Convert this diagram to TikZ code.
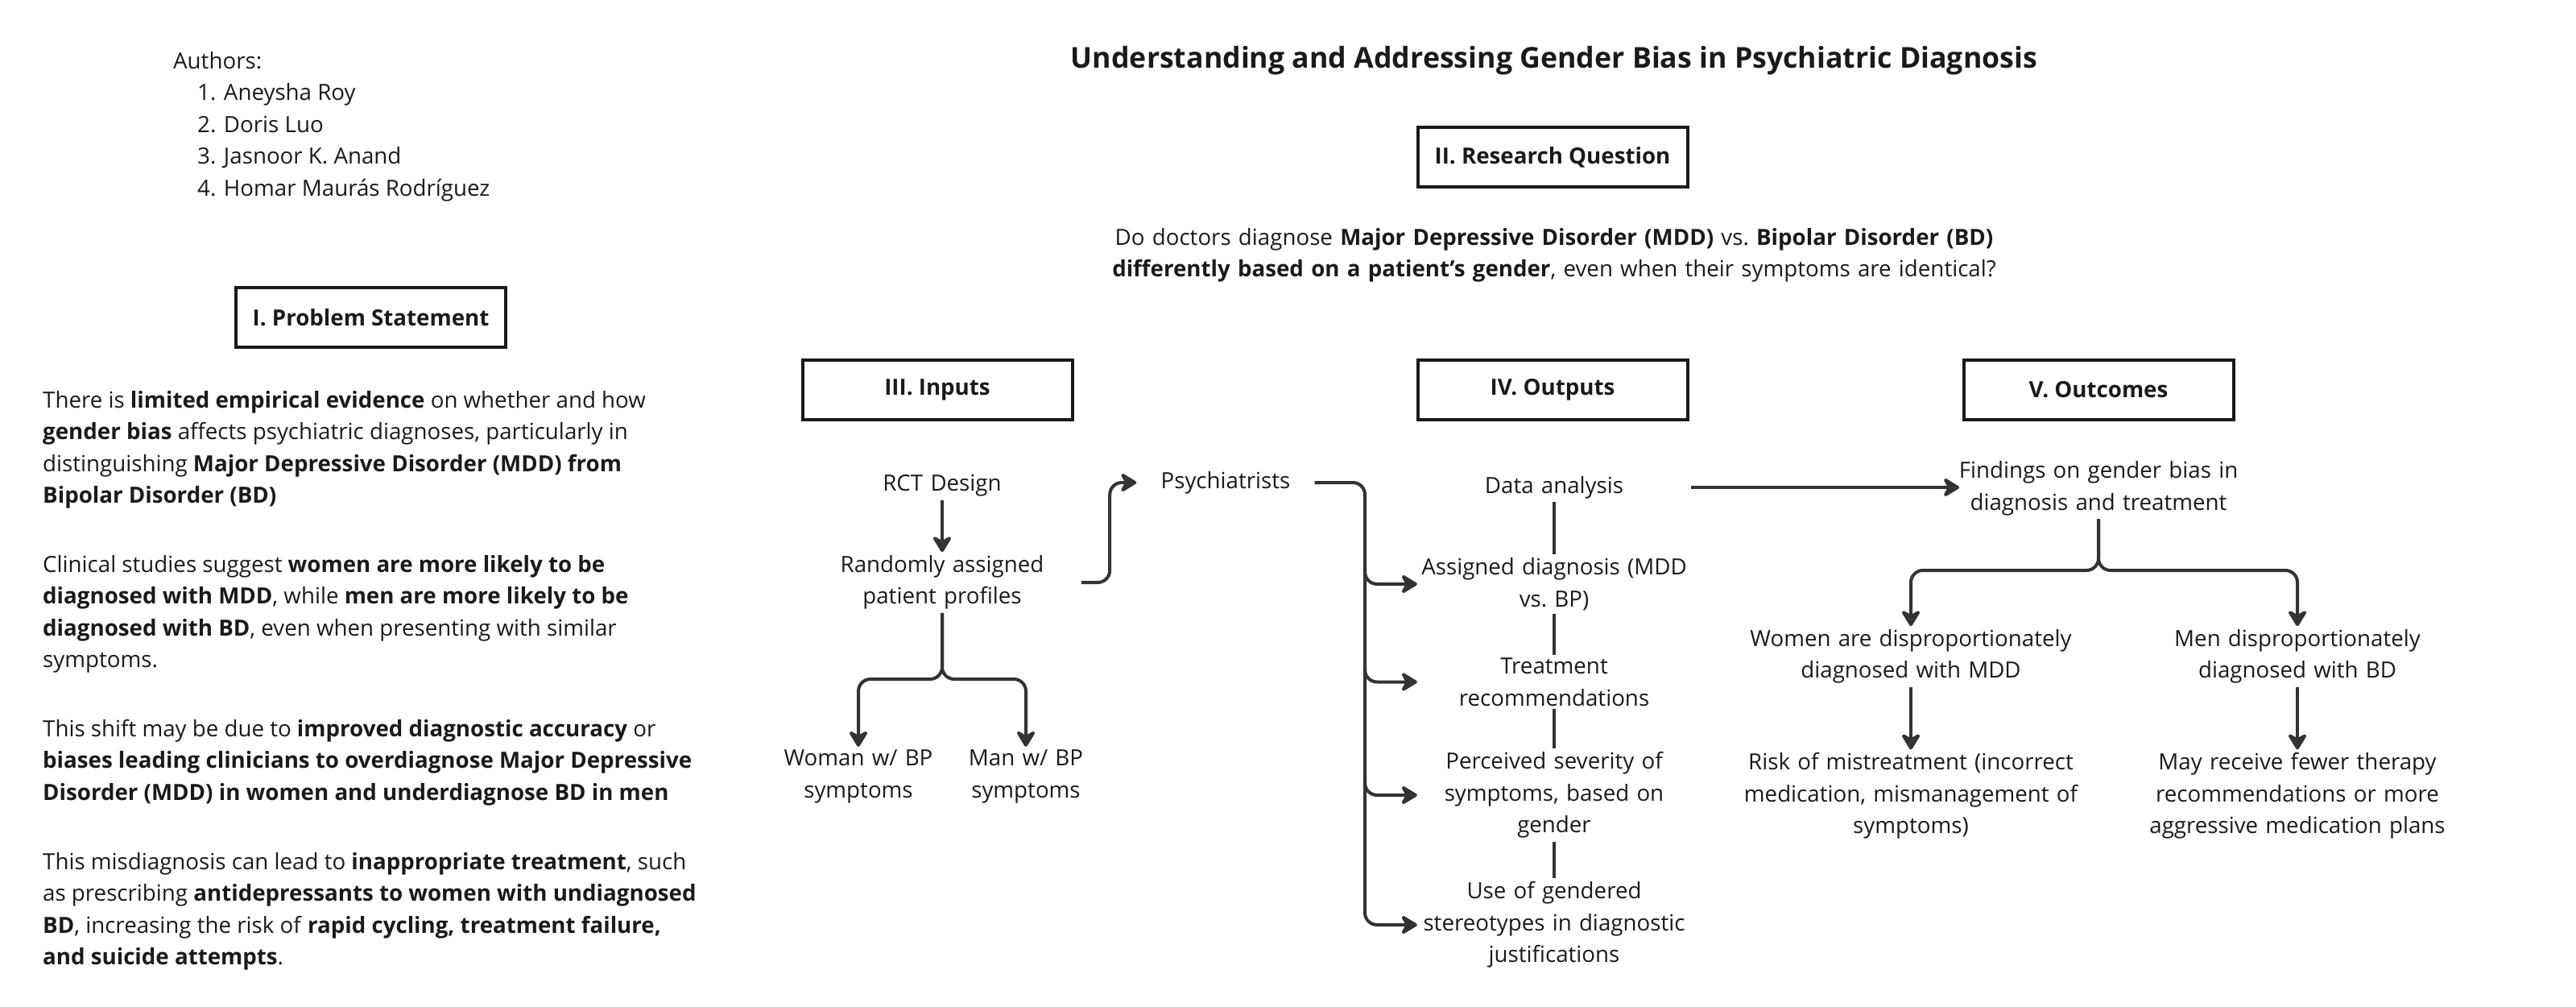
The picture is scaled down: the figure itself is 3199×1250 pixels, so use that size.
\documentclass[tikz,border=0pt]{standalone}
\usepackage{fontspec}
\setmainfont{Open Sans}
\usepackage{xcolor}
\usepackage{tikz}
\usetikzlibrary{calc,arrows.meta,positioning}
\definecolor{inkc}{HTML}{1A1A1A}
\definecolor{linec}{HTML}{333333}
\newcommand{\bodyfs}{\fontsize{27.7}{39.5}\selectfont}
\tikzset{
  ar/.style={-{Stealth[length=24pt,width=29pt,inset=8pt,round]},line width=4pt,linec,rounded corners=15pt},
  ln/.style={line width=4pt,linec},
  box/.style={draw=inkc,line width=4pt,minimum width=335pt,minimum height=74pt,font=\bodyfs\bfseries,text=inkc},
  txt/.style={align=center,text width=#1,inner xsep=5pt,inner ysep=4pt,font=\bodyfs,text=inkc},
  para/.style={align=left,anchor=north west,inner sep=0pt,font=\bodyfs,text=inkc}
}
\begin{document}
\begin{tikzpicture}[x=1pt,y=-1pt]
\useasboundingbox (0,0) rectangle (3199,1250);
\node[font=\fontsize{35.7}{40}\selectfont\bfseries,text=inkc] (title) at (1930,75) {Understanding and Addressing Gender Bias in Psychiatric Diagnosis};
\node[para] (authors) at (215,64) {Authors:\\\hspace*{30pt}1. Aneysha Roy\\\hspace*{30pt}2. Doris Luo\\\hspace*{30pt}3. Jasnoor K. Anand\\\hspace*{30pt}4. Homar Maurás Rodríguez};
\node[box] (probbox) at (460.5,394) {I. Problem Statement};
\node[para] (p1) at (53,485) {There is \textbf{limited empirical evidence} on whether and how\\\textbf{gender bias} affects psychiatric diagnoses, particularly in\\distinguishing \textbf{Major Depressive Disorder (MDD) from}\\\textbf{Bipolar Disorder (BD)}};
\node[para] (p2) at (53,689) {Clinical studies suggest \textbf{women are more likely to be}\\\textbf{diagnosed with MDD}, while \textbf{men are more likely to be}\\\textbf{diagnosed with BD}, even when presenting with similar\\symptoms.};
\node[para] (p3) at (53,893) {This shift may be due to \textbf{improved diagnostic accuracy} or\\\textbf{biases leading clinicians to overdiagnose Major Depressive}\\\textbf{Disorder (MDD) in women and underdiagnose BD in men}};
\node[para] (p4) at (53,1058) {This misdiagnosis can lead to \textbf{inappropriate treatment}, such\\as prescribing \textbf{antidepressants to women with undiagnosed}\\\textbf{BD}, increasing the risk of \textbf{rapid cycling, treatment failure,}\\\textbf{and suicide attempts}.};
\node[box] (rqbox) at (1928,195) {II. Research Question};
\node[txt=1120pt] (question) at (1930,317) {Do doctors diagnose \textbf{Major Depressive Disorder (MDD)} vs.\ \textbf{Bipolar Disorder (BD)}\\\textbf{differently based on a patient’s gender}, even when their symptoms are identical?};
\node[box] (inbox) at (1164,483.5) {III. Inputs};
\node[box] (outbox) at (1928,483.5) {IV. Outputs};
\node[box] (ocbox) at (2606,483.5) {V. Outcomes};
\node[txt=336pt] (rct) at (1170,603) {RCT Design};
\node[txt=336pt] (rand) at (1170,723) {Randomly assigned\\patient profiles};
\node[txt=190pt] (woman) at (1066,964) {Woman w/ BP\\symptoms};
\node[txt=190pt] (man) at (1274,964) {Man w/ BP\\symptoms};
\node[txt=211pt] (psy) at (1522,599) {Psychiatrists};
\node[txt=330pt] (data) at (1930,605) {Data analysis};
\node[txt=330pt] (assign) at (1930,725) {Assigned diagnosis (MDD\\vs.\ BP)};
\node[txt=330pt] (treat) at (1930,846.5) {Treatment\\recommendations};
\node[txt=330pt] (sev) at (1930,987) {Perceived severity of\\symptoms, based on\\gender};
\node[txt=330pt] (use) at (1930,1148) {Use of gendered\\stereotypes in diagnostic\\justifications};
\node[txt=420pt] (find) at (2606,606.5) {Findings on gender bias in\\diagnosis and treatment};
\node[txt=440pt] (women) at (2373,815) {Women are disproportionately\\diagnosed with MDD};
\node[txt=440pt] (men) at (2853,815) {Men disproportionately\\diagnosed with BD};
\node[txt=440pt] (risk) at (2373,988) {Risk of mistreatment (incorrect\\medication, mismanagement of\\symptoms)};
\node[txt=440pt] (fewer) at (2853,988) {May receive fewer therapy\\recommendations or more\\aggressive medication plans};
\coordinate (jin) at (1170,843);
\coordinate (busx) at (1695,0);
\coordinate (findin) at (2433,0);
\coordinate (jout) at (2606,708);
\draw[ar] (rct) -- (rand);
\draw[ar] (rand.south) -- (rand.south |- jin) -| (woman.north);
\draw[ar] (rand.south) -- (rand.south |- jin) -| (man.north);
\draw[ar] (rand.east) -- ++(35,0) |- (psy.west);
\draw[ar] (psy.east) -| (busx |- use) -- (use.west);
\foreach \o in {assign,treat,sev}{\draw[ar] ($(busx |- \o)+(0,-20)$) -- (busx |- \o) -- (\o.west);}
\foreach \a/\b in {data/assign,assign/treat,treat/sev,sev/use}{\draw[ln] (\a) -- (\b);}
\draw[ar] (data.east) -- (data.east -| findin);
\draw[ar] (find.south) -- (find.south |- jout) -| (women.north);
\draw[ar] (find.south) -- (find.south |- jout) -| (men.north);
\draw[ar] (women) -- (risk);
\draw[ar] (men) -- (fewer);
\end{tikzpicture}
\end{document}
